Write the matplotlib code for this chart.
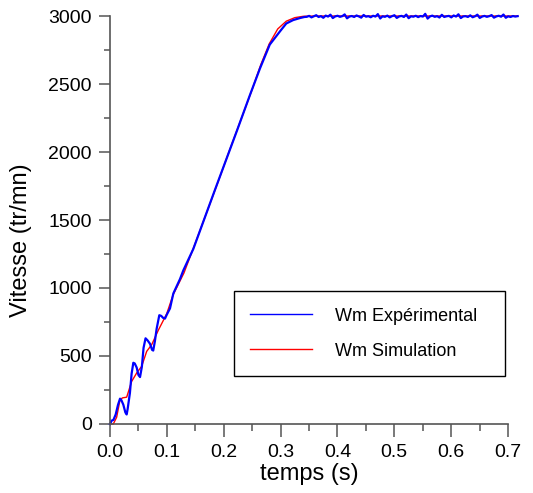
import numpy as np
import matplotlib
matplotlib.use("Agg")
import matplotlib.pyplot as plt
from matplotlib.ticker import MultipleLocator, FormatStrFormatter

plt.rcParams['font.family'] = ['Liberation Sans', 'DejaVu Sans']

# vitesse mesuree (demarrage + oscillations + rampe)
t_exp = [0.0, 0.003, 0.006, 0.010, 0.014, 0.0176, 0.020, 0.0234, 0.027,
         0.0293, 0.031, 0.035, 0.038, 0.041, 0.0435, 0.0469, 0.050, 0.0528,
         0.056, 0.059, 0.0625, 0.066, 0.0703, 0.074, 0.076, 0.079, 0.082,
         0.0867, 0.090, 0.0935, 0.0967, 0.100, 0.1055, 0.1114, 0.117, 0.123,
         0.129, 0.1465, 0.1847, 0.2239, 0.2462, 0.2638, 0.281, 0.2989, 0.31,
         0.322, 0.334, 0.342]
v_exp = [0, 25, 30, 70, 140, 186, 175, 142, 85, 70, 110, 228, 370, 450, 445,
         415, 360, 345, 420, 560, 630, 615, 590, 545, 540, 610, 700, 800, 795,
         780, 775, 805, 850, 960, 1010, 1065, 1130, 1287, 1723, 2164, 2420,
         2615, 2790, 2887, 2945, 2970, 2985, 2993]

# regime permanent mesure
v_plat = [2994, 3001, 2990, 2998, 3006, 2993, 2999, 2987, 3003, 2996,
          3010, 2985, 2997, 3002, 2994, 2999, 3012, 2983, 2996, 3000,
          2993, 3004, 2997, 2988, 3008, 2995, 2999, 2991, 3002, 2996,
          3014, 2982, 2998, 2994, 3003, 2990, 2999, 3006, 2986, 2997,
          3001, 2993, 3011, 2984, 2998, 2995, 3002, 2992, 3000, 2996,
          3016, 2981, 2997, 3003, 2994, 2999, 2989, 3009, 2993, 2998,
          3001, 2990, 3004, 2996, 3013, 2985, 2997, 2999, 2993, 3005,
          2991, 2998, 3010, 2986, 2996, 3001, 2994, 2999, 3007, 2988,
          2997, 3002, 2995, 3011, 2987, 2998, 2993, 3000, 2996, 2999]
t_plat = np.linspace(0.346, 0.717, len(v_plat))

# vitesse simulee
t_sim = [0.0, 0.0058, 0.0117, 0.0176, 0.022, 0.0293, 0.0381, 0.0469, 0.0557,
         0.0645, 0.0733, 0.085, 0.0997, 0.111, 0.13, 0.15, 0.17, 0.19, 0.21,
         0.23, 0.25, 0.265, 0.28, 0.295, 0.31, 0.325, 0.34, 0.36, 0.717]
v_sim = [0, 0, 50, 178, 192, 197, 313, 375, 424, 534, 583, 690, 810, 950,
         1110, 1330, 1555, 1780, 2010, 2235, 2460, 2640, 2795, 2905, 2962,
         2988, 2998, 3000, 3000]

t_all = np.concatenate([t_exp, t_plat])
v_all = np.concatenate([v_exp, v_plat])

fig = plt.figure(figsize=(5.33, 4.93), dpi=100)
ax = fig.add_axes([0.2064, 0.140, 0.7467, 0.8275])

l_sim, = ax.plot(t_sim, v_sim, color='#ff0000', lw=1.0, clip_on=False,
                 label='Wm Simulation')
l_exp, = ax.plot(t_all, v_all, color='#0000ff', lw=1.6, clip_on=False,
                 label='Wm Expérimental')

ax.set_xlim(0, 0.7)
ax.set_ylim(0, 3000)

for s in ['top', 'right']:
    ax.spines[s].set_visible(False)
for s in ['left', 'bottom']:
    ax.spines[s].set_color('#555555')
    ax.spines[s].set_linewidth(1.2)

ax.xaxis.set_major_locator(MultipleLocator(0.1))
ax.xaxis.set_minor_locator(MultipleLocator(0.05))
ax.xaxis.set_major_formatter(FormatStrFormatter('%.1f'))
ax.yaxis.set_major_locator(MultipleLocator(500))
ax.yaxis.set_minor_locator(MultipleLocator(250))

ax.tick_params(axis='x', which='major', direction='out', length=9.5,
               width=1.1, color='#555555', labelsize=14, pad=5)
ax.tick_params(axis='x', which='minor', direction='out', length=5,
               width=1.1, color='#555555')
ax.tick_params(axis='y', which='major', direction='out', length=8,
               width=1.1, color='#555555', labelsize=14, pad=5)
ax.tick_params(axis='y', which='minor', direction='out', length=4,
               width=1.1, color='#555555')

ax.set_xlabel('temps (s)', fontsize=17, labelpad=1)
ax.set_ylabel('Vitesse (tr/mn)', fontsize=17)
ax.yaxis.set_label_coords(-0.197, 0.451)

leg = ax.legend(handles=[l_exp, l_sim],
                loc='lower left', bbox_to_anchor=(0.3116, 0.1176, 0.681, 0.218),
                mode='expand', borderaxespad=0, fontsize=13,
                handlelength=3.4, handletextpad=1.3, borderpad=0.9,
                labelspacing=1.0, fancybox=False, framealpha=1,
                edgecolor='black')
leg.get_frame().set_linewidth(1.0)
for h in leg.legend_handles:
    h.set_linewidth(1.0)

fig.savefig('out.png', dpi=100)
